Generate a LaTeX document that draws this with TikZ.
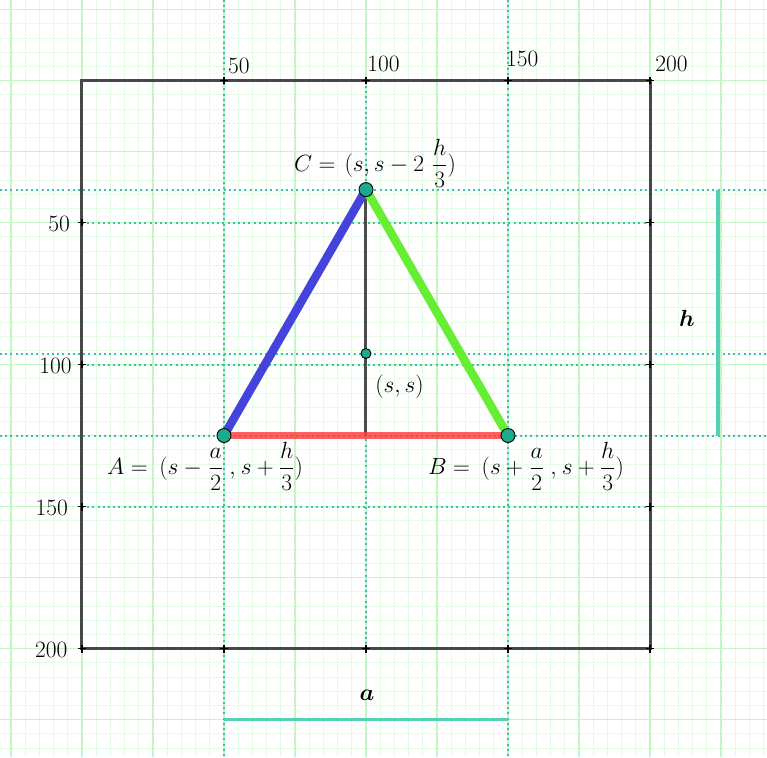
\RequirePackage{fix-cm}
\documentclass[tikz,border=0pt]{standalone}
\usepackage{amsmath,bm}
\definecolor{gmajor}{RGB}{196,246,196}
\definecolor{gminor}{RGB}{228,251,228}
\definecolor{dotc}{RGB}{56,192,172}
\definecolor{dimc}{RGB}{85,208,181}
\definecolor{ptfill}{RGB}{26,170,140}
\definecolor{bluel}{RGB}{68,68,221}
\definecolor{greenl}{RGB}{102,238,51}
\definecolor{redl}{RGB}{255,60,60}
\begin{document}
\begin{tikzpicture}[x=2.84bp,y=-2.84bp,
  font=\fontsize{23.5}{28}\selectfont,
  minorgrid/.style={gminor,line width=0.8bp},
  majorgrid/.style={gmajor,line width=1.1bp},
  dotline/.style={dotc,line width=2bp,dash pattern=on 2bp off 3.2bp},
  frame/.style={black!72,line width=3bp},
  tickmark/.style={black,line width=1.3bp},
  edgeblue/.style={bluel,line width=8.5bp},
  edgegreen/.style={greenl,line width=8.5bp},
  edgered/.style={redl,line width=7bp,opacity=0.82},
  altitude/.style={black!70,line width=3bp},
  dimline/.style={dimc,line width=3.5bp},
  pt/.style={circle,draw=black,line width=0.9bp,fill=ptfill,minimum size=14bp,inner sep=0pt},
  ptsmall/.style={pt,minimum size=10bp},
  lbl/.style={inner sep=0pt}]
\useasboundingbox (-28.87,-28.35) rectangle (241.20,238.20);
\fill[white] (-28.87,-28.35) rectangle (241.20,238.20);
% grid
\foreach \i in {-25,-20,...,240} {
  \draw[minorgrid] (\i,-28.35) -- (\i,238.2);
  \draw[minorgrid] (-28.87,\i) -- (241.2,\i);
}
\foreach \i in {-25,0,...,225} {
  \draw[majorgrid] (\i,-28.35) -- (\i,238.2);
  \draw[majorgrid] (-28.87,\i) -- (241.2,\i);
}
% key coordinates
\coordinate (A) at (50,125);
\coordinate (B) at (150,125);
\coordinate (C) at (100,38.4);
\coordinate (M) at (100,125);
\coordinate (S) at (100,96.13);
\coordinate (TL) at (0,0);
\coordinate (BR) at (200,200);
% dotted guide lines
\coordinate (cL) at (-28.87,38.4);  \coordinate (cR) at (241.2,38.4);
\coordinate (sL) at (-28.87,96.13); \coordinate (sR) at (241.2,96.13);
\coordinate (aL) at (-28.87,125);   \coordinate (aR) at (241.2,125);
\coordinate (aT) at (50,-28.35);    \coordinate (aB) at (50,238.2);
\coordinate (bT) at (150,-28.35);   \coordinate (bB) at (150,238.2);
\draw[dotline] (cL) -- (cR);
\draw[dotline] (sL) -- (sR);
\draw[dotline] (aL) -- (aR);
\draw[dotline] (aT) -- (aB);
\draw[dotline] (bT) -- (bB);
\foreach \v in {50,100,150} {
  \draw[dotline] (0,\v) -- (200,\v);
}
\draw[dotline] (100,0) -- (100,200);
% frame
\draw[frame] (TL) rectangle (BR);
\foreach \v in {50,100,150,200} {
  \draw[tickmark] (\v,-1.4) -- (\v,1.4) (\v-1.4,0) -- (\v+1.4,0);
  \draw[tickmark] (\v,198.6) -- (\v,201.4) (\v-1.4,200) -- (\v+1.4,200);
  \draw[tickmark] (-1.4,\v) -- (1.4,\v) (0,\v-1.4) -- (0,\v+1.4);
  \draw[tickmark] (198.6,\v) -- (201.4,\v) (200,\v-1.4) -- (200,\v+1.4);
}
% axis labels
\node[lbl,anchor=base west] (t50) at (51.4,-2.6) {50};
\node[lbl,anchor=base west] (t100) at (100.4,-3.0) {100};
\node[lbl,anchor=base west] (t150) at (149.3,-4.8) {150};
\node[lbl,anchor=base west] (t200) at (201.8,-3.3) {200};
\node[lbl,anchor=base east] (l50) at (-4.2,53.3) {50};
\node[lbl,anchor=base east] (l100) at (-3.6,103) {100};
\node[lbl,anchor=base east] (l150) at (-4.9,153) {150};
\node[lbl,anchor=base east] (l200) at (-5.1,203) {200};
% triangle
\draw[altitude] (C) -- (M);
\draw[edgeblue] (A) -- (C);
\draw[edgegreen] (C) -- (B);
\draw[edgered] (A) -- (B);
\node[pt] (Ap) at (A) {};
\node[pt] (Bp) at (B) {};
\node[pt] (Cp) at (C) {};
\node[ptsmall] (Sp) at (S) {};
% point labels
\node[lbl,anchor=base west] (Clbl) at (74.6,32.1)
  {$\displaystyle C=\mkern2mu(s,s-2\mkern6mu\frac{h}{3})$};
\node[lbl,anchor=base west] (Albl) at (8.8,138.6)
  {$\displaystyle A=\mkern4mu(s-\mkern1mu\frac{a}{2}\mkern5mu,\mkern1mu s+\frac{h}{3})$};
\node[lbl,anchor=base west] (Blbl) at (121.8,138.6)
  {$\displaystyle B=\mkern4mu(s+\mkern1mu\frac{a}{2}\mkern5mu,\mkern1mu s+\frac{h}{3})$};
\node[lbl,anchor=base west] (Slbl) at (103.2,110.0) {$(s,s)$};
% dimensions
\coordinate (da1) at (50,225);
\coordinate (da2) at (150,225);
\coordinate (dh1) at (224,38.4);
\coordinate (dh2) at (224,125);
\draw[dimline] (da1) -- (da2);
\draw[dimline] (dh1) -- (dh2);
\node[lbl,anchor=base] (alab) at (100.4,218.4) {$\bm{a}$};
\node[lbl,anchor=base] (hlab) at (213.0,86.7) {$\bm{h}$};
\end{tikzpicture}
\end{document}
